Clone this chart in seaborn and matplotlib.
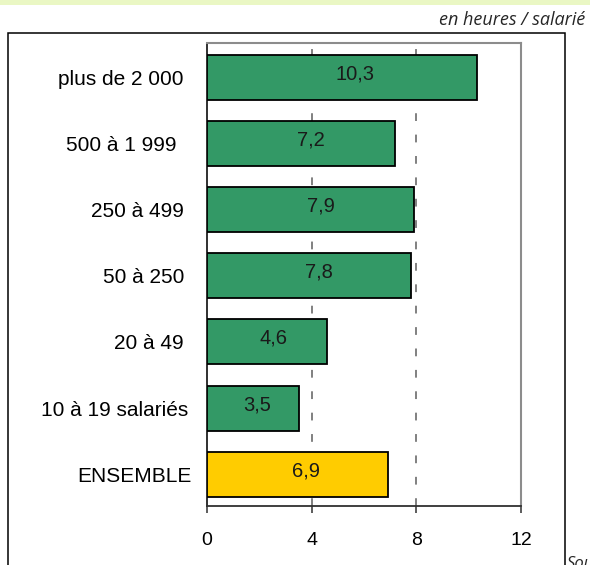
import matplotlib
matplotlib.use("Agg")
import matplotlib.pyplot as plt
import matplotlib.transforms as mtransforms
from matplotlib.patches import Rectangle
import pandas as pd
import seaborn as sns

# Chart data
categories = ["plus de 2 000", "500 à 1 999", "250 à 499", "50 à 250",
              "20 à 49", "10 à 19 salariés", "ENSEMBLE"]
values = [10.3, 7.2, 7.9, 7.8, 4.6, 3.5, 6.9]
value_labels = ["10,3", "7,2", "7,9", "7,8", "4,6", "3,5", "6,9"]
x_ticks = [0, 4, 8, 12]
unit_label = "en heures / salarié"
source_label = "Source"

# Styling
bar_colors = ["#339966"] * 6 + ["#FFCC00"]
label_gap_px = [24, 30, 23, 23, 23, 19, 15]  # gap between label end and axis
label_anchor = 0.55  # value labels sit a bit right of the bar middle

W, H = 590, 565
sns.set_theme(style="white")
plt.rcParams["font.family"] = ["Liberation Sans", "DejaVu Sans"]


def px_box(left, top, right, bottom):
    """Convert a pixel box (from top-left) into figure fractions."""
    return [left / W, 1 - bottom / H, (right - left) / W, (bottom - top) / H]


fig = plt.figure(figsize=(W / 100, H / 100), dpi=100)

# Pale title band (title itself is cut off in the original)
fig.patches.append(Rectangle((0, 1 - 5 / H), 1, 5 / H, transform=fig.transFigure,
                             facecolor="#EAF7C4", edgecolor="none", zorder=0))

# Outer frame around the chart
fig.patches.append(Rectangle((8 / W, -0.05), (565 - 8) / W, 1.05 - 33 / H,
                             transform=fig.transFigure, facecolor="none",
                             edgecolor="black", linewidth=1.1, zorder=1))

ax = fig.add_axes(px_box(207, 43, 521, 506))

df = pd.DataFrame({"category": categories, "value": values})
sns.barplot(data=df, x="value", y="category", hue="category",
            palette=bar_colors, legend=False, orient="h", width=0.68,
            edgecolor="black", linewidth=1.3, saturation=1, ax=ax, zorder=3)

ax.set_xlim(0, 12)
ax.set_ylim(6.48, -0.52)
ax.set_xticks(x_ticks)
ax.set_xticklabels([str(t) for t in x_ticks], fontsize=14)
ax.set_xlabel("")
ax.set_ylabel("")

# Dashed vertical gridlines
for t in x_ticks[1:-1]:
    ax.axvline(t, color="#808080", linewidth=1.4, linestyle=(0, (4, 7)), zorder=1)

# Spines
for side in ["top", "right"]:
    ax.spines[side].set_color("#8c8c8c")
    ax.spines[side].set_linewidth(1.5)
ax.spines["left"].set_color("#202020")
ax.spines["left"].set_linewidth(1.3)
ax.spines["bottom"].set_color("#303030")
ax.spines["bottom"].set_linewidth(1.3)

ax.tick_params(axis="x", bottom=True, direction="out", length=5, width=1.1,
               color="#303030", pad=14, labelcolor="black")
ax.tick_params(axis="y", left=False, length=0, pad=0)

# Category labels: right aligned with individual gaps
ax.set_yticks(range(len(categories)))
ax.set_yticklabels(categories, fontsize=15, color="black")
for lab, gap in zip(ax.get_yticklabels(), label_gap_px):
    lab.set_transform(lab.get_transform() +
                      mtransforms.ScaledTranslation(-gap / 100, 0, fig.dpi_scale_trans))

# Value labels inside bars
for i, (v, txt) in enumerate(zip(values, value_labels)):
    ax.annotate(txt, xy=(v * label_anchor, i), xytext=(0, 2.5),
                textcoords="offset points", ha="center", va="center",
                fontsize=14.5, color="#1a1a1a", zorder=5)

# Unit note and cut-off source line
fig.text(585 / W, 1 - 20 / H, unit_label, ha="right", va="center",
         fontsize=13, style="italic", family=["Open Sans", "DejaVu Sans"])
fig.text(567 / W, 1 - 556 / H, source_label, ha="left", va="top",
         fontsize=12, style="italic", family=["Open Sans", "DejaVu Sans"])

fig.savefig("out.png", dpi=100)
